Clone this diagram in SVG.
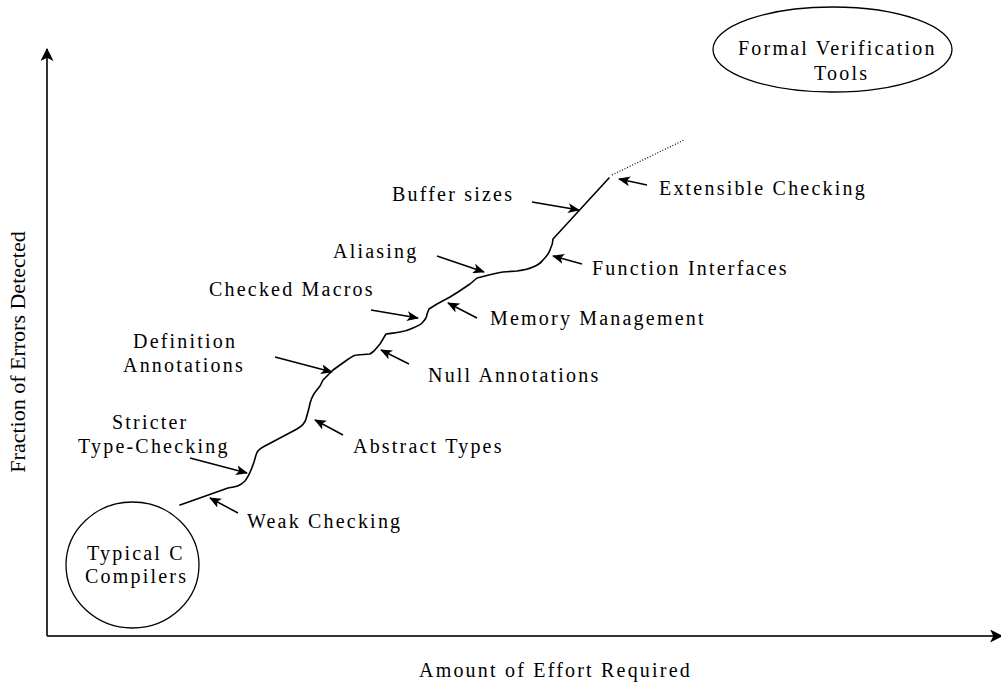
<svg xmlns="http://www.w3.org/2000/svg" width="1001" height="685" viewBox="0 0 1001 685">
<style>
  .lbl { font-family: "Liberation Serif", "Times New Roman", serif; font-size: 20px; letter-spacing: 2.2px; fill: #000; }
  .ax { font-family: "Liberation Serif", "Times New Roman", serif; font-size: 22px; fill: #000; }
  .axis { stroke: #333; stroke-width: 2; fill: none; }
  .ptr { stroke: #000; stroke-width: 1.5; fill: none; marker-end: url(#ah); }
  .curve { stroke: #000; stroke-width: 1.6; fill: none; stroke-linejoin: round; stroke-linecap: round; }
  .shape { stroke: #000; stroke-width: 1.3; fill: #fff; }
</style>
<defs>
  <marker id="ah" viewBox="0 0 12 10" refX="11" refY="5" markerWidth="12" markerHeight="10" markerUnits="userSpaceOnUse" orient="auto">
    <path d="M0,0 L12,5 L0,10 L3,5 z" fill="#000"/>
  </marker>
  <marker id="axh" viewBox="0 0 12 12" refX="11" refY="6" markerWidth="13" markerHeight="13" markerUnits="userSpaceOnUse" orient="auto">
    <path d="M0,0 L12,6 L0,12 L3,6 z" fill="#000"/>
  </marker>
</defs>
<rect width="1001" height="685" fill="#fff"/>

<g id="axes">
  <line class="axis" x1="47" y1="636" x2="47" y2="49" marker-end="url(#axh)"/>
  <line class="axis" x1="47" y1="636" x2="1002" y2="636" marker-end="url(#axh)"/>
  <text class="ax" transform="translate(25,352) rotate(-90)" text-anchor="middle">Fraction of Errors Detected</text>
  <text class="lbl" x="419" y="677">Amount of Effort Required</text>
</g>

<g id="connectors">
  <path id="effort-curve" class="curve" d="M180,505 L228,488 C236,487 240,486 245,481 C249,476 252,468 254,462 L256,455 C257,451 259,449 263,447 L280,438 L297,429 C302,426 305,423 306,419 L309,408 C310,402 312,396 316,391 L320,386 L323,380 C327,376 329,374 333,370 L347,360 C351,357 354,355 357,355 L370,354 L374,351 L380,344 L386,334 C392,333 396,333 400,332 C406,331 409,330 413,328 C418,326 420,325 422,323 C425,320 427,317 427,314 L429,309 L437,304 L450,297 L458,292 L470,284 L477,278 C486,276 495,273 503,272 L517,271 C524,270 529,269 533,267 C538,265 541,263 543,260 C547,256 549,253 550,250 C552,246 553,243 553,239 L609,178"/>
  <line x1="612" y1="175" x2="684" y2="140" stroke="#000" stroke-width="1.2" stroke-dasharray="1,1.8" fill="none"/>
  <line class="ptr" x1="238" y1="513" x2="210" y2="498"/>
  <line class="ptr" x1="190" y1="458" x2="247" y2="473"/>
  <line class="ptr" x1="343" y1="435" x2="315" y2="420"/>
  <line class="ptr" x1="275" y1="357" x2="332" y2="372"/>
  <line class="ptr" x1="409" y1="364" x2="381" y2="350"/>
  <line class="ptr" x1="371" y1="310" x2="418" y2="318"/>
  <line class="ptr" x1="477" y1="318" x2="448" y2="303"/>
  <line class="ptr" x1="437" y1="256" x2="484" y2="272"/>
  <line class="ptr" x1="582" y1="264" x2="553" y2="256"/>
  <line class="ptr" x1="532" y1="202" x2="579" y2="210"/>
  <line class="ptr" x1="647" y1="185" x2="619" y2="179"/>
</g>

<g id="formal-verification">
  <ellipse class="shape" cx="832.5" cy="49.5" rx="119.5" ry="42.5"/>
  <text class="lbl" x="738" y="55">Formal Verification</text>
  <text class="lbl" x="814" y="80">Tools</text>
</g>
<g id="typical-c">
  <ellipse class="shape" cx="132.5" cy="565" rx="66.5" ry="63"/>
  <text class="lbl" x="87" y="560">Typical C</text>
  <text class="lbl" x="85" y="583">Compilers</text>
</g>
<g id="extensible-checking"><text class="lbl" x="659" y="195">Extensible Checking</text></g>
<g id="buffer-sizes"><text class="lbl" x="392" y="201">Buffer sizes</text></g>
<g id="function-interfaces"><text class="lbl" x="592" y="275">Function Interfaces</text></g>
<g id="aliasing"><text class="lbl" x="333" y="258">Aliasing</text></g>
<g id="memory-management"><text class="lbl" x="490" y="325">Memory Management</text></g>
<g id="checked-macros"><text class="lbl" x="209" y="296">Checked Macros</text></g>
<g id="definition-annotations">
  <text class="lbl" x="133" y="348">Definition</text>
  <text class="lbl" x="123" y="372">Annotations</text>
</g>
<g id="null-annotations"><text class="lbl" x="428" y="382">Null Annotations</text></g>
<g id="stricter-type-checking">
  <text class="lbl" x="112" y="429">Stricter</text>
  <text class="lbl" x="78" y="453">Type-Checking</text>
</g>
<g id="abstract-types"><text class="lbl" x="353" y="453">Abstract Types</text></g>
<g id="weak-checking"><text class="lbl" x="247" y="528">Weak Checking</text></g>
</svg>
